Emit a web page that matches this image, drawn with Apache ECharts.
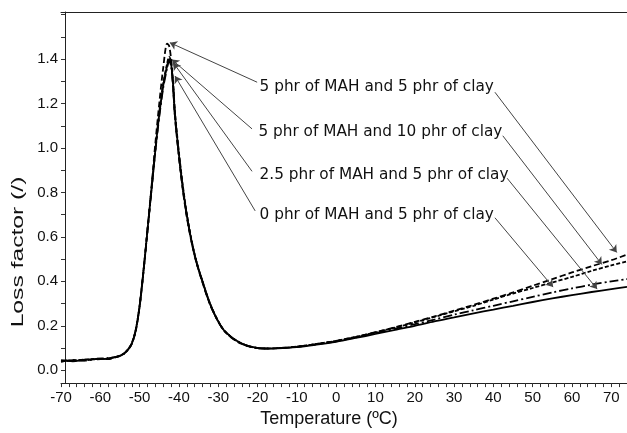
<!DOCTYPE html>
<html>
<head>
<meta charset="utf-8">
<title>Loss factor vs temperature</title>
<script src="https://cdn.jsdelivr.net/npm/echarts@6/dist/echarts.min.js"></script>
<style>
  html, body { margin: 0; padding: 0; background: #fff; }
  #chart { width: 627px; height: 433px; }
</style>
</head>
<body>
<div id="chart"></div>
<script>
// temperature (ºC), shared by all four curves
const temps = [-70, -67, -64, -61, -58, -55, -54, -53, -52, -51, -50, -49, -48, -47, -46, -45, -44, -43, -42.5, -42, -41.5, -41,
  -40, -39, -38, -37, -36, -35, -34, -33, -32, -31, -30, -29, -28, -26, -24, -22, -20, -18, -15, -10, -5,
  0, 5, 10, 15, 20, 25, 30, 35, 40, 45, 50, 55, 60, 65, 70, 74];

// loss factor
const mah5clay5 = [0.042, 0.045, 0.044, 0.052, 0.050, 0.066, 0.074, 0.090, 0.118, 0.175, 0.285, 0.445, 0.63, 0.82, 1.02, 1.20, 1.36, 1.47, 1.46, 1.40, 1.28, 1.14,
  0.96, 0.81, 0.69, 0.595, 0.515, 0.45, 0.395, 0.34, 0.292, 0.253, 0.218, 0.19, 0.168, 0.138, 0.118, 0.106, 0.099, 0.097, 0.099, 0.106, 0.118,
  0.132, 0.150, 0.171, 0.193, 0.217, 0.242, 0.268, 0.294, 0.322, 0.350, 0.380, 0.410, 0.440, 0.468, 0.495, 0.52];
const mah5clay10 = [0.040, 0.043, 0.048, 0.049, 0.053, 0.064, 0.076, 0.093, 0.121, 0.18, 0.29, 0.45, 0.63, 0.81, 0.99, 1.16, 1.29, 1.38, 1.41, 1.39, 1.30, 1.16,
  0.98, 0.83, 0.705, 0.605, 0.52, 0.455, 0.40, 0.345, 0.296, 0.256, 0.221, 0.191, 0.17, 0.14, 0.12, 0.107, 0.100, 0.098, 0.099, 0.106, 0.118,
  0.132, 0.150, 0.170, 0.192, 0.215, 0.240, 0.265, 0.290, 0.318, 0.345, 0.370, 0.395, 0.420, 0.447, 0.472, 0.49];
const mah25clay5 = [0.045, 0.040, 0.047, 0.050, 0.052, 0.065, 0.075, 0.092, 0.12, 0.18, 0.29, 0.45, 0.63, 0.81, 0.99, 1.15, 1.28, 1.37, 1.40, 1.38, 1.29, 1.15,
  0.97, 0.82, 0.70, 0.60, 0.52, 0.455, 0.40, 0.345, 0.295, 0.255, 0.22, 0.19, 0.17, 0.14, 0.12, 0.107, 0.100, 0.097, 0.098, 0.104, 0.115,
  0.128, 0.145, 0.163, 0.182, 0.200, 0.220, 0.238, 0.256, 0.273, 0.290, 0.307, 0.323, 0.338, 0.352, 0.365, 0.375];
const mah0clay5 = [0.038, 0.046, 0.043, 0.051, 0.055, 0.063, 0.073, 0.091, 0.119, 0.178, 0.288, 0.448, 0.628, 0.808, 0.985, 1.14, 1.27, 1.36, 1.39, 1.37, 1.28, 1.14,
  0.965, 0.815, 0.695, 0.598, 0.518, 0.452, 0.398, 0.343, 0.294, 0.254, 0.219, 0.19, 0.169, 0.139, 0.119, 0.107, 0.100, 0.098, 0.099, 0.105, 0.117,
  0.130, 0.148, 0.167, 0.187, 0.207, 0.228, 0.250, 0.270, 0.290, 0.310, 0.330, 0.350, 0.368, 0.385, 0.400, 0.41];

const seriesNames = ['5 phr of MAH and 5 phr of clay', '5 phr of MAH and 10 phr of clay',
  '2.5 phr of MAH and 5 phr of clay', '0 phr of MAH and 5 phr of clay'];
const seriesValues = [mah5clay5, mah5clay10, mah25clay5, mah0clay5];
const dashTypes = [[6, 3], [4, 2], 'solid', [9, 3, 2, 3]];

// annotation anchors, in data units
const labelAt = [[-19.6, 1.273], [-19.9, 1.073], [-19.6, 0.877], [-19.6, 0.699]];
const peakArrowFrom = [[-20.1, 1.296], [-21.4, 1.086], [-21.4, 0.895], [-20.6, 0.717]];
const peakArrowTo = [[-42.3, 1.474], [-41.8, 1.398], [-41.4, 1.383], [-41.0, 1.324]];
const tailArrowFrom = [[40.4, 1.251], [42.4, 1.055], [43.5, 0.864], [40.4, 0.686]];
const tailArrowTo = [[71.4, 0.53], [67.6, 0.476], [66.4, 0.365], [55.2, 0.374]];

const yLabels = [0, 0.2, 0.4, 0.6, 0.8, 1.0, 1.2, 1.4];
const xLabels = [-70, -60, -50, -40, -30, -20, -10, 0, 10, 20, 30, 40, 50, 60, 70];

const yTicks = [];
for (let v = 0; v <= 16; v++) yTicks.push(v / 10);
const xTicks = [];
for (let v = -70; v <= 74; v += 2) xTicks.push(v);

const labelFont = 'Liberation Sans, Arial, sans-serif';

const series = seriesValues.map(function (vals, i) {
  return {
    name: seriesNames[i],
    type: 'line',
    data: temps.map((t, k) => [t, vals[k]]),
    showSymbol: false,
    smooth: 0.3,
    silent: true,
    lineStyle: { color: '#000', width: 1.8, type: dashTypes[i] },
    markLine: {
      silent: true,
      symbol: ['none', 'arrow'],
      symbolSize: 7,
      label: { show: false },
      lineStyle: { color: '#444', width: 1, type: 'solid' },
      data: [
        [{ coord: peakArrowFrom[i] }, { coord: peakArrowTo[i] }],
        [{ coord: tailArrowFrom[i] }, { coord: tailArrowTo[i] }]
      ]
    },
    markPoint: {
      silent: true,
      symbol: 'circle',
      symbolSize: 1,
      itemStyle: { color: 'rgba(0,0,0,0)' },
      label: {
        show: true,
        position: 'right',
        distance: 0,
        formatter: seriesNames[i],
        color: '#111',
        fontFamily: 'DejaVu Sans, Verdana, sans-serif',
        fontSize: 15.3
      },
      data: [{ coord: labelAt[i] }]
    }
  };
});

const chart = echarts.init(document.getElementById('chart'), null, { renderer: 'canvas' });
chart.setOption({
  animation: false,
  backgroundColor: '#fff',
  grid: { left: 61, right: 0, top: 12, bottom: 46 },
  // the y-axis title of the source is stretched along its length
  graphic: [{
    type: 'text',
    x: 18,
    y: 252,
    rotation: Math.PI / 2,
    scaleX: 1.45,
    style: {
      text: 'Loss factor (/)',
      fontFamily: labelFont,
      fontSize: 17,
      fill: '#111',
      align: 'center',
      verticalAlign: 'middle'
    }
  }],
  xAxis: [{
    type: 'value',
    min: -70,
    max: 74,
    name: 'Temperature (ºC)',
    nameLocation: 'middle',
    nameGap: 21,
    nameTextStyle: { fontFamily: labelFont, fontSize: 18, color: '#111', padding: [0, 30, 0, 0] },
    axisLine: { onZero: false, lineStyle: { color: '#222', width: 1 } },
    axisTick: { inside: false, length: 4, customValues: xTicks, lineStyle: { color: '#333' } },
    axisLabel: { customValues: xLabels, fontFamily: labelFont, fontSize: 15, color: '#111', margin: 7 },
    splitLine: { show: false }
  }, {
    type: 'value',
    position: 'top',
    min: -70,
    max: 74,
    axisLine: { show: true, onZero: false, lineStyle: { color: '#222', width: 1 } },
    axisTick: { show: false },
    axisLabel: { show: false },
    splitLine: { show: false }
  }],
  yAxis: {
    type: 'value',
    min: -0.058,
    max: 1.612,
    offset: -4,
    axisLine: { show: true, onZero: false, lineStyle: { color: '#222', width: 1 } },
    axisTick: { inside: false, length: 4, customValues: yTicks, lineStyle: { color: '#333' } },
    axisLabel: {
      customValues: yLabels,
      fontFamily: labelFont, fontSize: 15, color: '#111', margin: 7,
      formatter: v => v.toFixed(1)
    },
    splitLine: { show: false }
  },
  series: series
});
</script>
</body>
</html>
